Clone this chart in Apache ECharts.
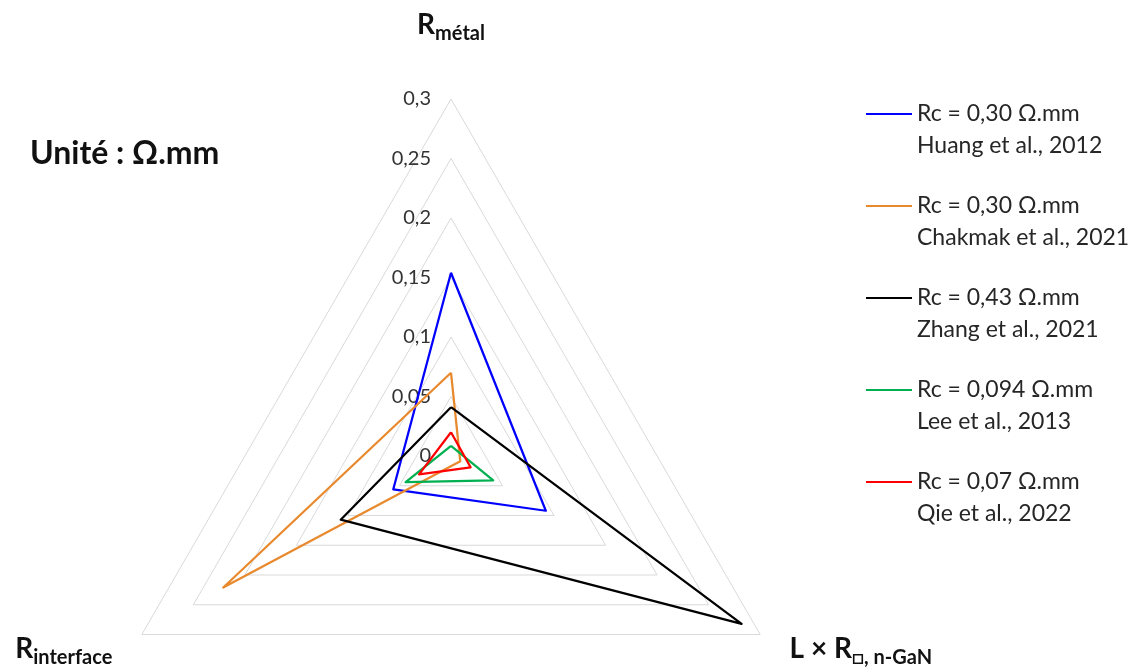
<!DOCTYPE html>
<html>
<head>
<meta charset="utf-8">
<script src="https://cdn.jsdelivr.net/npm/echarts@6/dist/echarts.min.js"></script>
<style>
html,body{margin:0;padding:0;background:#fff;}
#c{width:1143px;height:668px;}
</style>
</head>
<body>
<div id="c"></div>
<script>
// Indicators (counter-clockwise from top)
var indicatorNames = ['{b|R}{s|métal}', '{b|R}{s|interface}', '{b|L × R}{s|□, n-GaN}'];
var axisMax = 0.3;
var tickStep = 0.05;

// Series (one per study)
var rcLabels = ['Rc = 0,30 Ω.mm', 'Rc = 0,30 Ω.mm', 'Rc = 0,43 Ω.mm', 'Rc = 0,094 Ω.mm', 'Rc = 0,07 Ω.mm'];
var refs = ['Huang et al., 2012', 'Chakmak et al., 2021', 'Zhang et al., 2021', 'Lee et al., 2013', 'Qie et al., 2022'];
var colors = ['#0000ff', '#e8892e', '#000000', '#00b050', '#ff0000'];
var rMetal     = [0.154, 0.070, 0.041, 0.0085, 0.020];
var rInterface = [0.056, 0.221, 0.107, 0.044, 0.031];
var lxR        = [0.092, 0.009, 0.282, 0.041, 0.019];

var FONT = 'Lato';
var chart = echarts.init(document.getElementById('c'), null, {renderer: 'canvas'});

var seriesData = rcLabels.map(function (rc, i) {
  return {
    name: rc + '\n' + refs[i],
    value: [rMetal[i], rInterface[i], lxR[i]],
    symbol: 'none',
    lineStyle: {color: colors[i], width: 2.25},
    itemStyle: {color: colors[i]}
  };
});

var nameGaps = [55, 34, 34];
var option = {
  animation: false,
  title: {
    text: 'Unité : Ω.mm',
    left: 25, top: 133,
    textStyle: {fontFamily: FONT, fontSize: 32, fontWeight: 'bold', color: '#111'}
  },
  legend: {
    orient: 'vertical',
    left: 861, top: 61,
    itemWidth: 46, itemHeight: 2,
    itemGap: -4,
    icon: 'rect',
    selectedMode: false,
    formatter: function (n) { return '\n' + n; },
    textStyle: {fontFamily: FONT, fontSize: 23, lineHeight: 32, color: '#262626'}
  },
  radar: {
    center: [451, 456],
    radius: 357,
    shape: 'polygon',
    splitNumber: Math.round(axisMax / tickStep),
    indicator: indicatorNames.map(function (n, i) {
      var ind = {name: n, min: 0, max: axisMax, nameGap: nameGaps[i]};
      if (i > 0) ind.axisLabel = {show: false};
      return ind;
    }),
    axisName: {
      color: '#111',
      fontFamily: FONT,
      rich: {
        b: {fontFamily: FONT, fontSize: 28, fontWeight: 'bold', color: '#111', verticalAlign: 'bottom', padding: [0, 0, 5, 0]},
        s: {fontFamily: FONT, fontSize: 20, fontWeight: 'bold', color: '#111', verticalAlign: 'bottom'}
      }
    },
    axisLine: {show: false},
    axisTick: {show: false},
    splitArea: {show: false},
    splitLine: {lineStyle: {color: '#d9d9d9', width: 1}},
    axisLabel: {
      show: true,
      margin: 20,
      padding: [20, 0, 0, 0],
      fontFamily: FONT, fontSize: 20, color: '#333333',
      formatter: function (v) { return String(+v.toFixed(4)).replace('.', ','); }
    }
  },
  series: [{
    type: 'radar',
    data: seriesData
  }]
};
chart.setOption(option);
</script>
</body>
</html>
